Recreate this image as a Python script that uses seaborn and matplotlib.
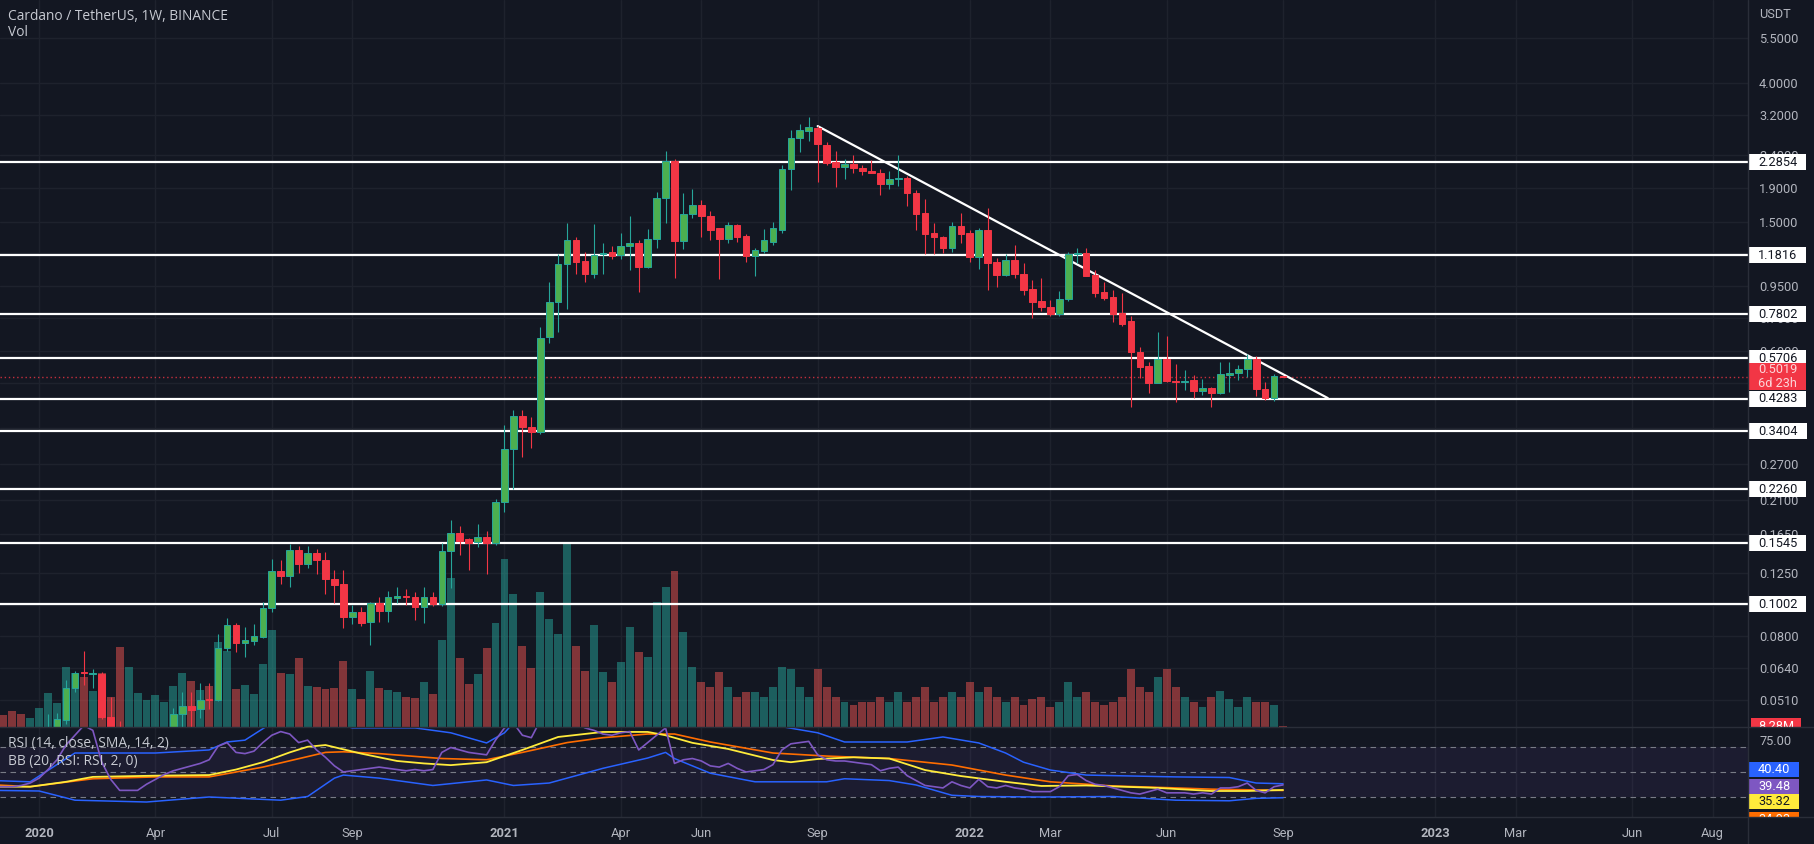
import numpy as np
import pandas as pd
import matplotlib
matplotlib.use("Agg")
import matplotlib.pyplot as plt
import matplotlib.dates as mdates
from matplotlib.path import Path
from matplotlib.lines import Line2D
from matplotlib.ticker import NullLocator, NullFormatter, FixedLocator, FixedFormatter
import seaborn as sns

# ------------------------------------------------------------------ data
first_week = "2019-12-02"   # weekly candles, one every 7 days

opens = [0.0395, 0.0372, 0.0360, 0.0342, 0.0332, 0.0352, 0.0392, 0.0418, 0.0443, 0.0554,
         0.0620, 0.0612, 0.0613, 0.0452, 0.0420, 0.0270, 0.0300, 0.0320, 0.0330, 0.0350,
         0.0370, 0.0462, 0.0490, 0.0478, 0.0512, 0.0508, 0.0736, 0.0865, 0.0765, 0.0775,
         0.0797, 0.0978, 0.1268, 0.1225, 0.1474, 0.1333, 0.1440, 0.1375, 0.1195, 0.1160,
         0.0916, 0.0950, 0.0885, 0.1010, 0.0955, 0.1050, 0.1065, 0.1058, 0.0982, 0.1058,
         0.1008, 0.1460, 0.1660, 0.1590, 0.1555, 0.1610, 0.1545, 0.2060, 0.3000, 0.3800,
         0.3520, 0.3380, 0.6640, 0.8480, 1.1100, 1.3180, 1.1350, 1.0400, 1.1900, 1.2100,
         1.1850, 1.2600, 1.2900, 1.0900, 1.3250, 1.7800, 2.3000, 1.3100, 1.5800, 1.6850,
         1.5600, 1.4350, 1.3300, 1.4650, 1.3550, 1.1800, 1.2200, 1.3000, 1.4150, 2.1800,
         2.7100, 2.8500, 2.9200, 2.5800, 2.2900, 2.2100, 2.2500, 2.1900, 2.1500, 2.1200,
         1.9600, 2.0300, 2.0400, 1.8400, 1.5900, 1.3900, 1.3500, 1.2450, 1.4550, 1.3900,
         1.1700, 1.4150, 1.1300, 1.0300, 1.1440, 1.0400, 0.9300, 0.8550, 0.8200, 0.7800,
         0.8700, 1.1900, 1.2050, 1.0300, 0.9100, 0.8800, 0.7850, 0.7450, 0.5950, 0.5400,
         0.4800, 0.5680, 0.4870, 0.4840, 0.4900, 0.4520, 0.4630, 0.4460, 0.5080, 0.5130,
         0.5300, 0.5700, 0.4600, 0.4300, 0.5030]
highs = [0.0410, 0.0388, 0.0372, 0.0355, 0.0358, 0.0398, 0.0462, 0.0465, 0.0588, 0.0627,
         0.0721, 0.0635, 0.0620, 0.0522, 0.0440, 0.0330, 0.0340, 0.0345, 0.0375, 0.0400,
         0.0480, 0.0540, 0.0541, 0.0575, 0.0575, 0.0815, 0.0910, 0.0880, 0.0855, 0.0875,
         0.1017, 0.1380, 0.1375, 0.1540, 0.1510, 0.1510, 0.1480, 0.1450, 0.1280, 0.1280,
         0.0997, 0.0982, 0.1020, 0.1055, 0.1100, 0.1130, 0.1120, 0.1090, 0.1130, 0.1090,
         0.1545, 0.1820, 0.1750, 0.1600, 0.1770, 0.1685, 0.2110, 0.3570, 0.3960, 0.3960,
         0.3770, 0.7100, 0.9800, 1.1980, 1.4900, 1.3450, 1.2100, 1.4800, 1.2900, 1.2600,
         1.3850, 1.5600, 1.3180, 1.4200, 1.8500, 2.4700, 2.3400, 1.8400, 1.8900, 1.7500,
         1.6200, 1.4400, 1.5000, 1.4800, 1.3800, 1.2500, 1.4200, 1.5000, 2.2400, 2.8600,
         2.9900, 3.1400, 2.9500, 2.6300, 2.4700, 2.3400, 2.4000, 2.2400, 2.3200, 2.1800,
         2.1500, 2.4000, 2.0800, 1.8800, 1.7600, 1.4900, 1.3600, 1.5000, 1.5900, 1.4100,
         1.4400, 1.6500, 1.1600, 1.1900, 1.2700, 1.1200, 0.9930, 1.0100, 0.8620, 0.9200,
         1.2100, 1.2500, 1.2500, 1.0700, 0.9800, 0.9250, 0.9050, 0.7700, 0.6200, 0.5560,
         0.6880, 0.6670, 0.5500, 0.5260, 0.5070, 0.4930, 0.4660, 0.5550, 0.5560, 0.5450,
         0.5900, 0.5800, 0.4830, 0.5120, 0.5050]
lows = [0.0365, 0.0345, 0.0318, 0.0325, 0.0322, 0.0345, 0.0385, 0.0400, 0.0430, 0.0540,
        0.0568, 0.0554, 0.0445, 0.0410, 0.0180, 0.0220, 0.0270, 0.0300, 0.0320, 0.0335,
        0.0365, 0.0420, 0.0420, 0.0450, 0.0478, 0.0505, 0.0720, 0.0717, 0.0692, 0.0750,
        0.0790, 0.0950, 0.1160, 0.1130, 0.1250, 0.1300, 0.1240, 0.1080, 0.1010, 0.0850,
        0.0870, 0.0860, 0.0750, 0.0885, 0.0885, 0.1010, 0.1000, 0.0900, 0.0880, 0.0990,
        0.0990, 0.1125, 0.1420, 0.1280, 0.1500, 0.1245, 0.1520, 0.1930, 0.2270, 0.2850,
        0.3020, 0.3340, 0.6370, 0.6870, 0.8100, 1.0400, 0.9800, 1.0100, 1.0400, 1.1500,
        1.1500, 1.0700, 0.9100, 1.0800, 1.2500, 1.4900, 1.0100, 1.2400, 1.5400, 1.3500,
        1.3200, 1.0000, 1.2900, 1.3000, 1.1300, 1.0200, 1.2000, 1.2700, 1.3900, 1.8800,
        2.4600, 2.6500, 1.9900, 2.2400, 1.9200, 2.0300, 2.1200, 2.0900, 2.1100, 1.8100,
        1.8900, 1.9300, 1.6800, 1.4150, 1.1900, 1.1900, 1.2000, 1.2100, 1.2900, 1.1300,
        1.0750, 0.9250, 0.9450, 1.0200, 1.0100, 0.8930, 0.7600, 0.8000, 0.7700, 0.7700,
        0.8550, 1.1200, 1.0200, 0.8800, 0.8620, 0.7400, 0.7200, 0.4050, 0.4970, 0.4460,
        0.4780, 0.4830, 0.4200, 0.4560, 0.4300, 0.4400, 0.4050, 0.4430, 0.4500, 0.4900,
        0.5000, 0.4370, 0.4250, 0.4230, 0.4990]
closes = [0.0372, 0.0360, 0.0342, 0.0332, 0.0352, 0.0392, 0.0418, 0.0446, 0.0554, 0.0618,
          0.0615, 0.0616, 0.0452, 0.0420, 0.0270, 0.0300, 0.0320, 0.0330, 0.0350, 0.0370,
          0.0462, 0.0487, 0.0475, 0.0510, 0.0508, 0.0736, 0.0865, 0.0763, 0.0780, 0.0800,
          0.0978, 0.1268, 0.1222, 0.1474, 0.1330, 0.1437, 0.1375, 0.1195, 0.1150, 0.0916,
          0.0950, 0.0877, 0.1010, 0.0955, 0.1055, 0.1060, 0.1055, 0.0982, 0.1058, 0.1008,
          0.1460, 0.1660, 0.1570, 0.1545, 0.1610, 0.1545, 0.2060, 0.3000, 0.3800, 0.3510,
          0.3380, 0.6600, 0.8480, 1.1100, 1.3180, 1.1300, 1.0400, 1.1850, 1.2000, 1.1800,
          1.2650, 1.2900, 1.0900, 1.3250, 1.7800, 2.3000, 1.3100, 1.5800, 1.6850, 1.5600,
          1.4150, 1.3300, 1.4650, 1.3450, 1.1800, 1.2280, 1.3200, 1.4350, 2.1800, 2.7100,
          2.8700, 2.9300, 2.6000, 2.2700, 2.2100, 2.2500, 2.1900, 2.1400, 2.1100, 1.9600,
          2.0300, 2.0400, 1.8400, 1.5800, 1.3800, 1.3500, 1.2450, 1.4550, 1.3750, 1.1700,
          1.4150, 1.1200, 1.0300, 1.1440, 1.0400, 0.9250, 0.8500, 0.8200, 0.7800, 0.8700,
          1.1900, 1.2050, 1.0200, 0.9050, 0.8750, 0.7800, 0.7300, 0.5950, 0.5370, 0.4800,
          0.5680, 0.4850, 0.4840, 0.4880, 0.4520, 0.4630, 0.4460, 0.5110, 0.5150, 0.5300,
          0.5700, 0.4600, 0.4300, 0.5030, 0.5019]
# weekly volume, billions of ADA
volumes = [1.4, 1.2, 1.6, 1.3, 0.9, 1.9, 3.4, 2.4, 6.0, 5.4,
           5.0, 3.6, 5.4, 3.0, 8.0, 6.0, 3.4, 2.7, 3.2, 2.5,
           4.1, 5.4, 4.6, 3.7, 4.1, 8.5, 7.6, 3.8, 4.2, 3.3,
           6.3, 9.7, 5.4, 5.3, 6.9, 4.1, 4.0, 3.8, 3.9, 6.6,
           3.8, 2.8, 5.6, 3.9, 3.7, 3.5, 3.0, 2.9, 4.5, 3.3,
           8.7, 14.9, 6.9, 4.3, 5.3, 7.9, 10.4, 16.8, 13.3, 8.1,
           5.9, 13.5, 10.8, 9.3, 18.3, 8.1, 5.6, 10.2, 5.5, 4.5,
           6.5, 10.0, 7.5, 7.0, 12.5, 14.0, 15.6, 9.5, 6.0, 4.5,
           4.0, 5.5, 4.0, 3.0, 3.5, 3.5, 3.0, 4.0, 6.0, 5.8,
           4.0, 3.0, 5.8, 4.0, 3.0, 2.5, 2.2, 2.5, 2.5, 3.0,
           2.5, 3.5, 2.5, 3.0, 4.0, 2.5, 3.0, 3.5, 3.0, 4.5,
           3.5, 4.0, 3.0, 2.5, 3.0, 2.2, 2.8, 3.0, 2.0, 2.5,
           4.5, 3.0, 3.5, 2.5, 2.2, 2.5, 3.0, 5.8, 4.0, 3.5,
           5.0, 5.8, 4.0, 3.0, 2.5, 2.0, 3.0, 3.6, 2.8, 2.0,
           3.0, 2.5, 2.5, 2.2, 0.08]

# RSI pane (week index -> value)
rsi_vals = [38, 38, 38, 39, 41, 45, 52, 60, 72, 80,
            88, 84, 58, 44, 35, 35, 35, 40, 44, 48,
            51, 53, 55, 57, 60, 71, 74, 66, 65, 67,
            74, 80, 83, 81, 74, 76, 68, 62, 55, 50,
            51, 52, 53, 54, 53, 52, 51, 52, 51, 52,
            66, 70, 68, 66, 65, 64, 76, 86, 90, 80,
            78, 92, 95, 96, 96, 90, 86, 84, 81, 80,
            82, 83, 68, 74, 80, 86, 57, 60, 61, 59,
            55, 54, 57, 53, 50, 51, 52, 56, 68, 73,
            74, 75, 64, 60, 59, 59, 58, 57, 56, 51,
            53, 54, 47, 43, 39, 38, 37, 42, 39, 37,
            44, 38, 37, 39, 37, 36, 34, 34, 34, 38,
            47, 48, 43, 40, 39, 37, 35, 33, 32, 34,
            36, 33, 33, 33, 32, 33, 32, 37, 37, 38,
            41, 35, 33, 38, 39.48]
ma_weeks = [0, 4, 8, 11, 18, 24, 27, 30, 33, 35, 37, 41, 45, 48, 51, 55, 59, 63, 68,
            73, 75, 78, 82, 87, 89, 92, 96, 100, 104, 108, 113, 117, 122, 130, 136, 140, 144]
ma_vals = [38, 38, 42, 46, 47, 47.5, 52, 58, 66, 70.6, 72, 65, 59, 57, 55.6, 58, 68, 78.6, 82.7,
           82.7, 80, 73.8, 68.8, 59.8, 58, 60.6, 62, 61, 51.6, 46.7, 42, 38.6, 39, 37, 34.5, 34.5, 35.32]
basis_weeks = [0, 4, 11, 18, 24, 30, 37, 39, 43, 50, 55, 59, 64, 68, 73, 76, 80, 87, 93,
               100, 107, 113, 118, 125, 132, 136, 144]
basis_vals = [39.5, 38, 44.5, 46, 46, 54, 66, 66.5, 65, 61, 60, 66, 74, 78, 81, 81, 74.5, 65.5, 63,
              61, 55.7, 47.5, 42, 38.6, 37, 36, 34.93]
upper_weeks = [0, 4, 9, 18, 24, 26, 28, 31, 35, 38, 40, 47, 51, 55, 57, 58, 62, 80, 85, 88,
               92, 95, 102, 106, 110, 113, 115, 118, 122, 132, 138, 141, 144]
upper_vals = [43, 42, 65.5, 65.5, 68, 74.5, 76, 90, 95, 90, 86, 86, 82, 73.7, 82, 90, 100, 100, 95, 87,
              82, 74.5, 74.5, 78.6, 73.7, 65.5, 58, 51.6, 47.5, 46, 45.5, 41, 40.4]
lower_weeks = [0, 5, 9, 17, 24, 32, 35, 38, 39, 43, 49, 55, 58, 62, 68, 73, 75, 76, 80, 85,
               93, 95, 100, 103, 107, 110, 117, 125, 132, 138, 141, 144]
lower_vals = [35, 34.5, 27, 25.5, 29.6, 27, 30, 45, 47.5, 45, 39, 43.5, 39, 41, 53, 61.4, 66, 61, 49, 42,
              42, 44.5, 43, 39.4, 31, 30, 29.6, 30, 27, 26.5, 28.5, 29]

levels = [2.2854, 1.1816, 0.7802, 0.5706, 0.4283, 0.3404, 0.2260, 0.1545, 0.1002]
level_labels = ["2.2854", "1.1816", "0.7802", "0.5706", "0.4283", "0.3404", "0.2260", "0.1545", "0.1002"]
last_price = 0.5019
last_price_label = "0.5019\n6d 23h"
last_volume_label = "8.28M"
trend_dates = ["2021-09-06", "2022-10-10"]
trend_prices = [2.95, 0.431]
price_ticks = [5.5, 4.0, 3.2, 2.4, 1.9, 1.5, 1.2, 0.95, 0.76, 0.6, 0.48, 0.35,
               0.27, 0.21, 0.165, 0.125, 0.1, 0.08, 0.064, 0.051]
time_tick_dates = ["2020-01-06", "2020-04-06", "2020-07-06", "2020-09-07", "2021-01-04",
                   "2021-04-05", "2021-06-07", "2021-09-06", "2022-01-03", "2022-03-07",
                   "2022-06-06", "2022-09-05", "2023-01-02", "2023-03-06", "2023-06-05",
                   "2023-08-07"]
time_tick_labels = ["2020", "Apr", "Jul", "Sep", "2021", "Apr", "Jun", "Sep", "2022", "Mar",
                    "Jun", "Sep", "2023", "Mar", "Jun", "Aug"]
rsi_badges = ["40.40", "39.48", "35.32", "34.93"]

# ------------------------------------------------------------------ style
BG = "#131722"
GRID = "#1e222d"
TXT = "#b2b5be"
UP, UP_EDGE, DOWN = "#4caf50", "#26a69a", "#f23645"

sns.set_style("dark")
plt.rcParams["font.family"] = ["Roboto", "DejaVu Sans"]

W, H = 1814, 844
fig = plt.figure(figsize=(W / 100, H / 100), dpi=100, facecolor=BG)


def rect(x0, y0, x1, y1):
    return [x0 / W, 1 - y1 / H, (x1 - x0) / W, (y1 - y0) / H]


def padded_box(padx, pady):
    def box(x0, y0, width, height, mutation_size):
        return Path([(x0 - padx, y0 - pady), (x0 + width + padx, y0 - pady),
                     (x0 + width + padx, y0 + height + pady), (x0 - padx, y0 + height + pady),
                     (x0 - padx, y0 - pady)], closed=True)
    return box


dates = pd.date_range(first_week, periods=len(opens), freq="7D")
xd = mdates.date2num(dates)
o, h, l, c = map(np.asarray, (opens, highs, lows, closes))
up = c >= o

anchor = mdates.date2num(pd.Timestamp("2020-01-06"))
xlim = (anchor - 30.6, anchor + 1336.7)

# ---- main price pane
ax_bg = fig.add_axes(rect(0, 0, 1748, 727))
ax_bg.set_facecolor(BG)
ax_bg.set_zorder(0)
ax_bg.set_yscale("log")
ax_bg.set_ylim(0.0421, 7.196)
ax_bg.set_xlim(*xlim)
ax_bg.yaxis.set_major_locator(FixedLocator(price_ticks))
ax_bg.yaxis.set_major_formatter(FixedFormatter([f"{t:.4f}" for t in price_ticks]))
ax_bg.yaxis.set_minor_locator(NullLocator())
ax_bg.yaxis.set_minor_formatter(NullFormatter())
ax_bg.yaxis.tick_right()
ax_bg.tick_params(axis="y", length=0, pad=8, labelsize=9.2, labelcolor=TXT)
ax_bg.set_xticks(mdates.date2num(pd.to_datetime(time_tick_dates)))
ax_bg.tick_params(axis="x", length=0, labelbottom=False)
ax_bg.grid(True, color=GRID, lw=1)
for s in ax_bg.spines.values():
    s.set_visible(False)

axv = fig.add_axes(rect(0, 0, 1748, 727), sharex=ax_bg)
axv.set_zorder(1)
axv.patch.set_alpha(0)
axv.set_ylim(0, 72.7)
axv.axis("off")
axv.bar(xd, volumes, width=6.2, color=np.where(up, "#26a69a", "#ef5350"), alpha=0.5, lw=0)

ax = fig.add_axes(rect(0, 0, 1748, 727), sharex=ax_bg, sharey=ax_bg)
ax.set_zorder(2)
ax.patch.set_alpha(0)
ax.tick_params(left=False, right=False, bottom=False, labelleft=False, labelright=False,
               labelbottom=False)
ax.grid(False)
for s in ax.spines.values():
    s.set_visible(False)

# support / resistance levels
for lv in levels:
    ax.axhline(lv, color="white", lw=1.6, zorder=2)
ax.axhline(last_price, color=DOWN, lw=1, ls=(0, (1, 2)), alpha=0.8, zorder=2)
# trend line
ax.plot(mdates.date2num(pd.to_datetime(trend_dates)), trend_prices, color="white", lw=1.6, zorder=2)

# candles
wick_col = np.where(up, UP_EDGE, DOWN)
ax.vlines(xd, l, h, colors=wick_col, lw=0.8, zorder=3)
ax.bar(xd, np.abs(c - o), bottom=np.minimum(o, c), width=5.2,
       color=np.where(up, UP, DOWN), edgecolor=np.where(up, UP_EDGE, DOWN), lw=0.7, zorder=4)

# axis badges
for lv, lab in zip(levels, level_labels):
    ax.annotate(lab, xy=(1, lv), xycoords=("axes fraction", "data"), xytext=(10, 0),
                textcoords="offset pixels", ha="left", va="center", fontsize=9.2,
                color="#131722", annotation_clip=False, zorder=6,
                bbox=dict(boxstyle=padded_box(9, 1.5), fc="white", ec="none"))
ax.annotate(last_price_label, xy=(1, last_price), xycoords=("axes fraction", "data"),
            xytext=(10, 0), textcoords="offset pixels", ha="left", va="center",
            fontsize=9.2, color="#fcd5d8", linespacing=1.05, annotation_clip=False, zorder=6,
            bbox=dict(boxstyle=padded_box(9, 0.5), fc=DOWN, ec="none"))
axv.annotate(last_volume_label, xy=(1, volumes[-1]), xycoords=("axes fraction", "data"),
             xytext=(10, 0), textcoords="offset pixels", ha="left", va="center",
             fontsize=9.2, color="white", annotation_clip=False,
             bbox=dict(boxstyle=padded_box(7, 1.5), fc=DOWN, ec="none"))

# ---- RSI pane
rsi_ax = fig.add_axes(rect(0, 727, 1748, 817), sharex=ax_bg)
rsi_ax.set_facecolor(BG)
rsi_ax.set_ylim(13.27, 86.73)
rsi_ax.axhspan(30, 70, color="#7e57c2", alpha=0.09, lw=0)
for lv in (70, 50, 30):
    rsi_ax.axhline(lv, color="#787b86", lw=0.8, ls=(0, (5, 4)))
wk = lambda idx: xd[np.asarray(idx)]
sns.lineplot(x=wk(upper_weeks), y=upper_vals, ax=rsi_ax, color="#2962ff", lw=1.1, legend=False)
sns.lineplot(x=wk(lower_weeks), y=lower_vals, ax=rsi_ax, color="#2962ff", lw=1.1, legend=False)
sns.lineplot(x=wk(basis_weeks), y=basis_vals, ax=rsi_ax, color="#ff6d00", lw=1.2, legend=False)
sns.lineplot(x=wk(ma_weeks), y=ma_vals, ax=rsi_ax, color="#ffeb3b", lw=1.3, legend=False)
sns.lineplot(x=xd[: len(rsi_vals)], y=rsi_vals, ax=rsi_ax, color="#7e57c2", lw=1.2, legend=False)
rsi_ax.set_xlim(*xlim)
rsi_ax.set_yticks([])
rsi_ax.set_xticks(mdates.date2num(pd.to_datetime(time_tick_dates)))
rsi_ax.set_xticklabels(time_tick_labels)
rsi_ax.tick_params(axis="x", length=0, pad=7, labelsize=9.3, labelcolor=TXT)
for t in rsi_ax.get_xticklabels():
    if t.get_text().isdigit():
        t.set_fontweight("bold")
rsi_ax.grid(True, axis="x", color=GRID, lw=1)
rsi_ax.grid(False, axis="y")
rsi_ax.set_xlabel("")
rsi_ax.set_ylabel("")
for s in rsi_ax.spines.values():
    s.set_visible(False)

# right-hand scale of the RSI pane
rax = fig.add_axes(rect(1748, 727, 1814, 817))
rax.set_zorder(10)
rax.set_facecolor(BG)
rax.set_xlim(0, 1)
rax.set_ylim(13.27, 86.73)
rax.set_xticks([])
rax.set_yticks([])
for s in rax.spines.values():
    s.set_visible(False)
rax.text(11 / 66, 75, "75.00", ha="left", va="center", fontsize=9.2, color=TXT)
badge_cols = [("#2962ff", "white"), ("#7e57c2", "white"), ("#ffeb3b", "#131722"), ("#ff6d00", "white")]
badge_pos = [0.533, 0.344, 0.167, -0.03]
for lab, (fc, tc), yp in zip(rsi_badges, badge_cols, badge_pos):
    rax.text(10 / 66, yp, lab, transform=rax.transAxes, ha="left", va="center", fontsize=9.2,
             color=tc, clip_on=True, bbox=dict(boxstyle=padded_box(9, 1.0), fc=fc, ec="none"))

# ---- separators and header texts
sep = "#2a2e39"
fig.add_artist(Line2D([0, 1], [1 - 727 / H] * 2, transform=fig.transFigure, color=sep, lw=1, zorder=11))
fig.add_artist(Line2D([0, 1], [1 - 817 / H] * 2, transform=fig.transFigure, color=sep, lw=1, zorder=11))
fig.add_artist(Line2D([1748 / W] * 2, [0, 1], transform=fig.transFigure, color=sep, lw=1, zorder=11))

head = ["Open Sans", "DejaVu Sans"]
fig.text(8 / W, 1 - 16 / H, "Cardano / TetherUS, 1W, BINANCE", family=head, fontsize=9.9,
         color="#c7cad2", va="center")
fig.text(8 / W, 1 - 33 / H, "Vol", family=head, fontsize=9.9, color="#c7cad2", va="center")
fig.text(8 / W, 1 - 744 / H, "RSI (14, close, SMA, 14, 2)", family=head, fontsize=9.9,
         color="#c7cad2", va="center", zorder=12)
fig.text(8 / W, 1 - 762 / H, "BB (20, RSI: RSI, 2, 0)", family=head, fontsize=9.9,
         color="#c7cad2", va="center", zorder=12)
fig.text(1759 / W, 1 - 14 / H, "USDT", fontsize=9.2, color=TXT, va="center")

fig.savefig("out.png", dpi=100, facecolor=BG)
